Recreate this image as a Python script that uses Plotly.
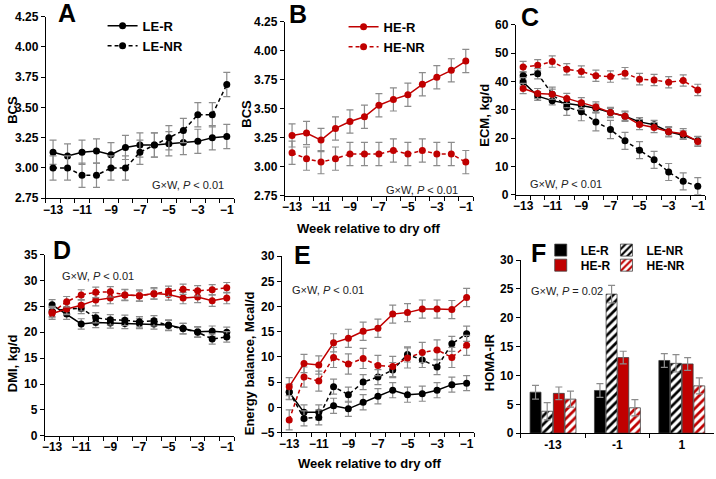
import plotly.graph_objects as go

W, H = 716, 479
FONT = "Arial, Liberation Sans, sans-serif"
RED = "#C00000"
BLACK = "#000000"
ERRC = "#8c8c8c"

weeks = [-13, -12, -11, -10, -9, -8, -7, -6, -5, -4, -3, -2, -1]

# ---- Panel A: BCS (LE) ----
bcs_le_r = [3.13, 3.10, 3.13, 3.14, 3.11, 3.17, 3.19, 3.19, 3.20, 3.21, 3.22, 3.25, 3.26]
bcs_le_r_se = [0.10, 0.10, 0.10, 0.10, 0.10, 0.10, 0.10, 0.10, 0.10, 0.10, 0.10, 0.10, 0.10]
bcs_le_nr = [3.00, 3.00, 2.94, 2.94, 3.00, 3.00, 3.13, 3.19, 3.25, 3.31, 3.44, 3.44, 3.69]
bcs_le_nr_se = [0.10, 0.10, 0.10, 0.10, 0.10, 0.10, 0.10, 0.10, 0.10, 0.10, 0.10, 0.10, 0.10]

# ---- Panel B: BCS (HE) ----
bcs_he_r = [3.27, 3.29, 3.23, 3.33, 3.39, 3.43, 3.53, 3.58, 3.62, 3.71, 3.77, 3.83, 3.91]
bcs_he_r_se = [0.10, 0.10, 0.10, 0.10, 0.10, 0.10, 0.10, 0.10, 0.10, 0.10, 0.10, 0.10, 0.10]
bcs_he_nr = [3.12, 3.07, 3.04, 3.07, 3.11, 3.11, 3.11, 3.14, 3.11, 3.14, 3.11, 3.11, 3.04]
bcs_he_nr_se = [0.10, 0.10, 0.10, 0.10, 0.10, 0.10, 0.10, 0.10, 0.10, 0.10, 0.10, 0.10, 0.10]

# ---- Panel C: ECM ----
ecm_le_r = [39.8, 34.8, 33.2, 32.2, 31.5, 30.5, 29.0, 27.7, 25.7, 24.7, 22.2, 21.0, 19.0]
ecm_le_r_se = [1.5, 1.5, 1.5, 1.5, 1.5, 1.5, 1.5, 1.5, 1.5, 1.5, 1.5, 1.5, 1.5]
ecm_le_nr = [42.0, 42.7, 35.5, 31.0, 29.3, 25.7, 23.0, 19.0, 15.7, 12.3, 8.0, 4.7, 3.0]
ecm_le_nr_se = [1.5, 1.8, 2.5, 3.0, 3.2, 3.2, 3.2, 3.0, 3.0, 3.0, 3.0, 3.0, 3.0]
ecm_he_r = [37.5, 35.7, 35.5, 34.0, 32.5, 31.0, 29.0, 27.7, 24.8, 23.7, 22.2, 21.5, 18.8]
ecm_he_r_se = [1.8, 1.8, 1.8, 1.8, 1.8, 1.8, 1.8, 1.8, 1.8, 1.8, 1.8, 1.8, 1.8]
ecm_he_nr = [45.1, 45.7, 47.0, 44.3, 43.5, 42.0, 41.7, 42.9, 40.8, 40.5, 39.7, 40.3, 37.0]
ecm_he_nr_se = [2.0, 2.0, 2.0, 2.0, 2.0, 2.0, 2.0, 2.0, 2.0, 2.0, 2.0, 2.0, 2.0]

# ---- Panel D: DMI ----
dmi_le_r = [25.3, 23.5, 21.6, 21.9, 21.8, 21.7, 21.7, 21.6, 21.4, 20.7, 20.1, 20.2, 20.0]
dmi_le_r_se = [1.0, 1.0, 1.0, 1.0, 1.0, 1.0, 1.0, 1.0, 1.0, 1.0, 1.0, 1.0, 1.0]
dmi_le_nr = [24.0, 24.5, 24.6, 22.8, 22.4, 22.3, 22.0, 22.2, 21.3, 20.7, 20.0, 18.7, 19.1]
dmi_le_nr_se = [1.0, 1.0, 1.0, 1.0, 1.0, 1.0, 1.0, 1.0, 1.0, 1.0, 1.0, 1.0, 1.0]
dmi_he_r = [23.6, 24.5, 25.2, 26.2, 26.6, 27.2, 27.1, 27.5, 27.3, 26.6, 26.8, 26.1, 26.6]
dmi_he_r_se = [1.1, 1.1, 1.1, 1.1, 1.1, 1.1, 1.1, 1.1, 1.1, 1.1, 1.1, 1.1, 1.1]
dmi_he_nr = [23.8, 25.9, 27.2, 27.7, 27.8, 27.2, 27.0, 27.4, 27.9, 28.3, 28.0, 28.2, 28.6]
dmi_he_nr_se = [1.0, 1.0, 1.0, 1.0, 1.0, 1.0, 1.0, 1.0, 1.0, 1.0, 1.0, 1.0, 1.0]

# ---- Panel E: Energy balance ----
eb_he_r = [4.1, 8.7, 8.4, 12.8, 13.7, 15.1, 15.7, 18.5, 18.8, 19.5, 19.5, 19.4, 21.8]
eb_he_r_se = [1.8, 1.8, 1.8, 1.8, 1.8, 1.8, 1.8, 1.8, 1.8, 1.8, 1.8, 1.8, 1.8]
eb_he_nr = [-2.5, 6.0, 5.2, 9.9, 8.6, 9.7, 8.3, 8.1, 9.8, 10.9, 11.4, 9.9, 12.3]
eb_he_nr_se = [2.0, 2.0, 2.0, 2.0, 2.0, 2.0, 2.0, 2.0, 2.0, 2.0, 2.0, 2.0, 2.0]
eb_le_r = [3.0, -1.0, -1.0, 0.3, -0.3, 1.0, 2.2, 3.4, 2.5, 2.7, 3.4, 4.5, 4.8]
eb_le_r_se = [1.5, 1.5, 1.5, 1.5, 1.5, 1.5, 1.5, 1.5, 1.5, 1.5, 1.5, 1.5, 1.5]
eb_le_nr = [3.1, -2.2, -2.0, 4.1, 2.5, 5.0, 6.0, 7.4, 10.5, 9.4, 8.0, 12.6, 14.6]
eb_le_nr_se = [1.5, 1.5, 1.5, 1.5, 1.5, 1.5, 1.5, 1.5, 1.5, 1.5, 1.5, 1.5, 1.5]

# ---- Panel F: HOMA-IR ----
homa_weeks = ["-13", "-1", "1"]
homa_le_r = [7.1, 7.4, 12.6]
homa_le_r_se = [1.2, 1.2, 1.2]
homa_le_nr = [3.8, 24.1, 12.1]
homa_le_nr_se = [1.5, 1.5, 1.5]
homa_he_r = [6.9, 13.1, 12.0]
homa_he_r_se = [1.1, 1.1, 1.1]
homa_he_nr = [5.9, 4.4, 8.2]
homa_he_nr_se = [1.4, 1.4, 1.4]


def px2x(px):
    return px / W


def px2y(py):
    return 1 - py / H


fig = go.Figure()


def add_line(y, err, color, dash, name, n, legend=None):
    fig.add_trace(go.Scatter(
        x=weeks, y=y, mode="lines+markers", name=name,
        line=dict(color=color, width=1.5, dash=dash),
        marker=dict(color=color, size=7, symbol="circle"),
        error_y=dict(type="data", array=err, color=ERRC, thickness=1.2, width=3.5),
        xaxis="x" if n == 1 else f"x{n}", yaxis="y" if n == 1 else f"y{n}",
        showlegend=legend is not None, legend=legend if legend else "legend",
    ))


DASH = "4px,3px"
add_line(bcs_le_r, bcs_le_r_se, BLACK, "solid", "LE-R", 1, "legend")
add_line(bcs_le_nr, bcs_le_nr_se, BLACK, DASH, "LE-NR", 1, "legend")

add_line(bcs_he_r, bcs_he_r_se, RED, "solid", "HE-R", 2, "legend2")
add_line(bcs_he_nr, bcs_he_nr_se, RED, DASH, "HE-NR", 2, "legend2")

add_line(ecm_he_nr, ecm_he_nr_se, RED, DASH, "HE-NR", 3)
add_line(ecm_le_nr, ecm_le_nr_se, BLACK, DASH, "LE-NR", 3)
add_line(ecm_le_r, ecm_le_r_se, BLACK, "solid", "LE-R", 3)
add_line(ecm_he_r, ecm_he_r_se, RED, "solid", "HE-R", 3)

add_line(dmi_le_r, dmi_le_r_se, BLACK, "solid", "LE-R", 4)
add_line(dmi_le_nr, dmi_le_nr_se, BLACK, DASH, "LE-NR", 4)
add_line(dmi_he_r, dmi_he_r_se, RED, "solid", "HE-R", 4)
add_line(dmi_he_nr, dmi_he_nr_se, RED, DASH, "HE-NR", 4)

add_line(eb_le_r, eb_le_r_se, BLACK, "solid", "LE-R", 5)
add_line(eb_le_nr, eb_le_nr_se, BLACK, DASH, "LE-NR", 5)
add_line(eb_he_nr, eb_he_nr_se, RED, DASH, "HE-NR", 5)
add_line(eb_he_r, eb_he_r_se, RED, "solid", "HE-R", 5)


def add_bar(y, err, name, color, pattern_color, legend):
    marker = dict(color=color, line=dict(color="#404040", width=0.8))
    if pattern_color:
        marker["pattern"] = dict(shape="/", fgcolor=pattern_color, bgcolor="white",
                                 size=6, solidity=0.45, fillmode="replace")
    fig.add_trace(go.Bar(
        x=homa_weeks, y=y, name=name, marker=marker,
        error_y=dict(type="data", array=err, color=ERRC, thickness=1.2, width=3.5),
        xaxis="x6", yaxis="y6", legend=legend, showlegend=True,
    ))


add_bar(homa_le_r, homa_le_r_se, "LE-R", BLACK, None, "legend3")
add_bar(homa_le_nr, homa_le_nr_se, "LE-NR", "white", BLACK, "legend4")
add_bar(homa_he_r, homa_he_r_se, "HE-R", RED, None, "legend5")
add_bar(homa_he_nr, homa_he_nr_se, "HE-NR", "white", RED, "legend6")

# panel boxes in pixels: (left, right, top, bottom)
boxes = {
    1: (43, 232, 10, 197),
    2: (283, 472, 15, 194.5),
    3: (515, 705, 18.3, 193.3),
    4: (42, 232, 255, 441.7),
    5: (280, 473, 256.7, 438.3),
    6: (520, 714, 260.7, 439),
}
yranges = {1: [2.75, 4.25], 2: [2.75, 4.25], 3: [0, 60], 4: [0, 35], 5: [-5, 30], 6: [0, 30]}
ydticks = {1: 0.25, 2: 0.25, 3: 10, 4: 5, 5: 5, 6: 5}

tickfont = dict(family=FONT, size=12, color="black", weight="bold")
layout = dict(
    width=W, height=H, margin=dict(l=0, r=0, t=0, b=0),
    paper_bgcolor="white", plot_bgcolor="white",
    barmode="group", bargap=0.276, bargroupgap=0.06,
    font=dict(family=FONT, color="black"),
)
for n, (l, r, t, b) in boxes.items():
    xk = "xaxis" if n == 1 else f"xaxis{n}"
    yk = "yaxis" if n == 1 else f"yaxis{n}"
    ya = "y" if n == 1 else f"y{n}"
    xa = "x" if n == 1 else f"x{n}"
    if n < 6:
        layout[xk] = dict(
            domain=[px2x(l), px2x(r)], anchor=ya, range=[-13.5, -0.5],
            tickmode="linear", tick0=-13, dtick=2, ticks="",
            minor=dict(ticks="outside", ticklen=4, tickcolor="black", tickwidth=1,
                       tickmode="linear", tick0=-0.5, dtick=1),
            showline=True, linecolor="black", linewidth=1, showgrid=False,
            zeroline=False, tickfont=tickfont,
        )
    else:
        layout[xk] = dict(
            domain=[px2x(l), px2x(r)], anchor=ya, type="category",
            tickson="boundaries", ticks="outside", ticklen=4, tickcolor="black",
            showline=True, linecolor="black", linewidth=1, showgrid=False,
            tickfont=tickfont,
        )
    layout[yk] = dict(
        domain=[px2y(b), px2y(t)], anchor=xa, range=yranges[n],
        tickmode="linear", tick0=yranges[n][0], dtick=ydticks[n],
        tickformat=".2f" if n <= 2 else "d",
        ticks="outside", ticklen=4, tickcolor="black",
        showline=True, linecolor="black", linewidth=1, showgrid=False,
        zeroline=False, tickfont=tickfont,
    )

legfont = dict(family=FONT, size=13, color="black", weight="bold")
layout["legend"] = dict(x=px2x(100), y=px2y(4), xanchor="left", yanchor="top",
                        bgcolor="rgba(0,0,0,0)", font=legfont, tracegroupgap=0)
layout["legend2"] = dict(x=px2x(342), y=px2y(5), xanchor="left", yanchor="top",
                         bgcolor="rgba(0,0,0,0)", font=legfont, tracegroupgap=0)
legfont_f = dict(family=FONT, size=12, color="black", weight="bold")
for key, lx, ly in [("legend3", 540, 235.5), ("legend4", 606, 235.5),
                    ("legend5", 540, 251), ("legend6", 606, 251)]:
    layout[key] = dict(x=px2x(lx), y=px2y(ly), xanchor="left", yanchor="top",
                       bgcolor="rgba(0,0,0,0)", font=legfont_f)

ann = []
# panel letters
letters = [("A", 53, 6), ("B", 285, 7), ("C", 518, 10), ("D", 48, 250), ("E", 290, 255), ("F", 528, 253)]
for txt, x, y in letters:
    ann.append(dict(text=txt, x=px2x(x), y=px2y(y), xref="paper", yref="paper",
                    xanchor="left", yanchor="middle", showarrow=False,
                    font=dict(family=FONT, size=25, color="black", weight="bold")))
# stats
stats = [("G×W, <i>P</i> &lt; 0.01", 148, 183), ("G×W, <i>P</i> &lt; 0.01", 383, 189),
         ("G×W, <i>P</i> &lt; 0.01", 527, 182), ("G×W, <i>P</i> &lt; 0.01", 57, 277),
         ("G×W, <i>P</i> &lt; 0.01", 288, 292), ("G×W, <i>P</i> = 0.02", 528, 293)]
for txt, x, y in stats:
    ann.append(dict(text=txt, x=px2x(x), y=px2y(y), xref="paper", yref="paper",
                    xanchor="left", yanchor="middle", showarrow=False,
                    font=dict(family=FONT, size=11, color="#222222")))
# y titles
ytitles = [("BCS", 10, 106), ("BCS", 245, 110), ("ECM, kg/d", 484, 111),
           ("DMI, kg/d", 9, 367), ("Energy balance, Mcal/d", 247, 367), ("HOMA-IR", 488, 366)]
for txt, x, y in ytitles:
    ann.append(dict(text=txt, x=px2x(x), y=px2y(y), xref="paper", yref="paper",
                    xanchor="center", yanchor="middle", showarrow=False, textangle=-90,
                    font=dict(family=FONT, size=13, color="black", weight="bold")))
# x titles
for x, y in [(367, 228), (368, 470)]:
    ann.append(dict(text="Week relative to dry off", x=px2x(x), y=px2y(y), xref="paper",
                    yref="paper", xanchor="center", yanchor="middle", showarrow=False,
                    font=dict(family=FONT, size=13, color="black", weight="bold")))
layout["annotations"] = ann

fig.update_layout(**layout)
fig.write_html("out.html")
